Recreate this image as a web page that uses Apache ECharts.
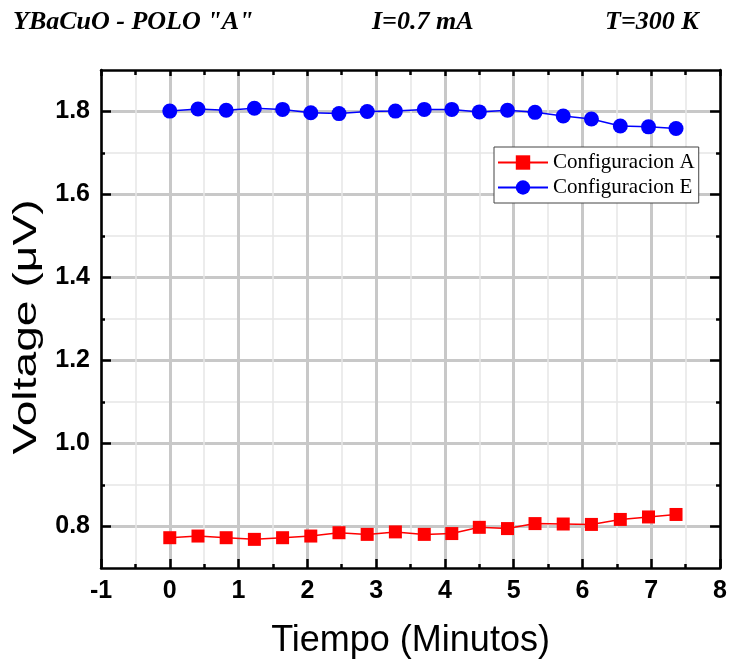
<!DOCTYPE html>
<html>
<head>
<meta charset="utf-8">
<script src="https://cdn.jsdelivr.net/npm/echarts@6/dist/echarts.min.js"></script>
<style>
  html, body { margin: 0; padding: 0; background: #ffffff; }
  #chart { width: 730px; height: 664px; }
</style>
</head>
<body>
<div id="chart"></div>
<script>
// Elapsed time (minutes) for each reading
var timeMin = [0, 0.41, 0.82, 1.23, 1.64, 2.05, 2.46, 2.87, 3.28, 3.70,
               4.10, 4.50, 4.91, 5.31, 5.72, 6.13, 6.55, 6.96, 7.36];
// Measured voltage (µV) for configuration A
var voltA = [0.773, 0.777, 0.773, 0.769, 0.773, 0.777, 0.785, 0.781, 0.787, 0.781,
             0.783, 0.798, 0.795, 0.807, 0.806, 0.805, 0.817, 0.823, 0.829];
// Measured voltage (µV) for configuration E
var voltE = [1.801, 1.806, 1.803, 1.808, 1.805, 1.797, 1.795, 1.800, 1.801, 1.805,
             1.805, 1.799, 1.803, 1.798, 1.789, 1.782, 1.765, 1.763, 1.759];
// Axis tick values
var yMajorTicks = [0.8, 1.0, 1.2, 1.4, 1.6, 1.8];
var yMinorTicks = [0.9, 1.1, 1.3, 1.5, 1.7];
var seriesNames = ['Configuracion A', 'Configuracion E'];

var sans = 'Liberation Sans, Arial, sans-serif';
var serif = 'Liberation Serif, Times New Roman, serif';
var majorGrid = { color: '#c8c8c8', width: 3 };
var minorGrid = { color: '#e6e6e6', width: 1.5 };
var axisLine = { show: true, onZero: false, lineStyle: { color: '#000', width: 2.5 } };
var noLine = { show: false, onZero: false };

function pairs(ys) {
  return timeMin.map(function (t, i) { return [t, ys[i]]; });
}

// One layer of the voltage axis: major or minor ticks on the left or right edge
function yAxisLayer(pos, ticks, len, withLine, withLabels, split) {
  return {
    type: 'value', position: pos, min: 0.7, max: 1.9,
    axisLine: withLine ? axisLine : noLine,
    axisTick: { show: true, inside: true, length: len, customValues: ticks,
                lineStyle: { color: '#000', width: 2.5 } },
    axisLabel: withLabels ? {
      show: true, customValues: ticks, margin: 11,
      fontFamily: sans, fontWeight: 'bold', fontSize: 25, color: '#000',
      formatter: function (v) { return v.toFixed(1); }
    } : { show: false },
    splitLine: split ? { show: true, lineStyle: split } : { show: false }
  };
}

var chart = echarts.init(document.getElementById('chart'), null, { renderer: 'canvas' });
chart.setOption({
  animation: false,
  backgroundColor: '#ffffff',
  title: [
    { text: 'YBaCuO - POLO "A"', left: 13, top: 9, padding: 0,
      textStyle: { fontFamily: serif, fontStyle: 'italic', fontWeight: 'bold', fontSize: 26, color: '#000' } },
    { text: 'I=0.7 mA', left: 372, top: 9, padding: 0,
      textStyle: { fontFamily: serif, fontStyle: 'italic', fontWeight: 'bold', fontSize: 26, color: '#000' } },
    { text: 'T=300 K', left: 605, top: 9, padding: 0,
      textStyle: { fontFamily: serif, fontStyle: 'italic', fontWeight: 'bold', fontSize: 26, color: '#000' } }
  ],
  // Vertical axis title, drawn tall and narrow
  graphic: [{
    type: 'text', x: 27, y: 327, rotation: Math.PI / 2, scaleX: 1.4, scaleY: 1,
    style: { text: 'Voltage (\u03bcV)', fontFamily: sans, fontSize: 33, fill: '#000',
             align: 'center', verticalAlign: 'middle' }
  }],
  legend: {
    orient: 'vertical', left: 494, top: 147,
    padding: [5, 4, 5, 3], itemGap: 4,
    itemWidth: 50, itemHeight: 18,
    borderColor: '#444', borderWidth: 1, backgroundColor: '#fff',
    textStyle: { fontFamily: serif, fontSize: 21, color: '#000' },
    data: seriesNames
  },
  grid: { left: 101, right: 8, top: 70, bottom: 96, containLabel: false },
  xAxis: [
    {
      type: 'value', position: 'bottom', min: -1, max: 8, interval: 1,
      name: 'Tiempo (Minutos)', nameLocation: 'middle', nameGap: 55,
      nameTextStyle: { fontFamily: sans, fontSize: 36, color: '#000' },
      axisLine: axisLine,
      axisTick: { show: true, inside: true, length: 9, lineStyle: { color: '#000', width: 2.5 } },
      minorTick: { show: true, splitNumber: 2, length: 4, lineStyle: { color: '#000', width: 2.5 } },
      axisLabel: { margin: 11, fontFamily: sans, fontWeight: 'bold', fontSize: 25, color: '#000' },
      splitLine: { show: true, lineStyle: majorGrid },
      minorSplitLine: { show: true, lineStyle: minorGrid }
    },
    {
      type: 'value', position: 'top', min: -1, max: 8, interval: 1,
      axisLine: axisLine,
      axisTick: { show: true, inside: true, length: 6, lineStyle: { color: '#000', width: 2.5 } },
      minorTick: { show: true, splitNumber: 2, length: 5, lineStyle: { color: '#000', width: 2.5 } },
      axisLabel: { show: false },
      splitLine: { show: false }
    }
  ],
  yAxis: [
    yAxisLayer('left', yMajorTicks, 10, true, true, majorGrid),
    yAxisLayer('left', yMinorTicks, 4, false, false, minorGrid),
    yAxisLayer('right', yMajorTicks, 10, true, false, null),
    yAxisLayer('right', yMinorTicks, 4, false, false, null)
  ],
  series: [
    {
      name: seriesNames[0], type: 'line', xAxisIndex: 0, yAxisIndex: 0,
      data: pairs(voltA), symbol: 'rect', symbolSize: 13,
      itemStyle: { color: '#ff0000' }, lineStyle: { color: '#ff0000', width: 1.5 }, z: 5
    },
    {
      name: seriesNames[1], type: 'line', xAxisIndex: 0, yAxisIndex: 0,
      data: pairs(voltE), symbol: 'circle', symbolSize: 15,
      itemStyle: { color: '#0000ff' }, lineStyle: { color: '#0000ff', width: 1.5 }, z: 5
    }
  ]
});
</script>
</body>
</html>
